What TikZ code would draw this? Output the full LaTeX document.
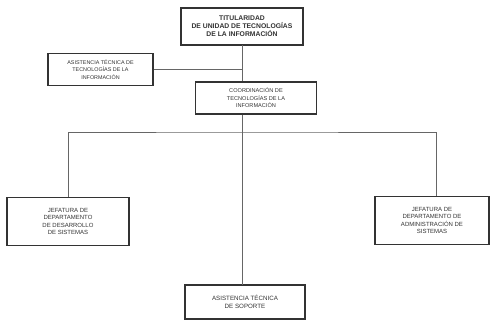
\documentclass[tikz,border=0pt]{standalone}
\usepackage{fontspec}
\setmainfont{Liberation Sans}
\begin{document}
\begin{tikzpicture}[x=1pt,y=-1pt,
  box/.style={draw=black!80, line width=1.1pt, fill=white, align=center,
    inner sep=1pt, text=black!80},
  wire/.style={draw=black!60, line width=0.6pt}]
\useasboundingbox[fill=white] (0,0) rectangle (491,322);
\node[box, minimum width=122pt, minimum height=37pt, font=\fontsize{6.8}{8}\selectfont\bfseries]
  (top) at (242,26.5) {TITULARIDAD\\DE UNIDAD DE TECNOLOGÍAS\\DE LA INFORMACIÓN};
\node[box, minimum width=105pt, minimum height=32pt, font=\fontsize{5.4}{7.5}\selectfont]
  (asis) at (100.5,69.5) {ASISTENCIA TÉCNICA DE\\TECNOLOGÍAS DE LA\\INFORMACIÓN};
\node[box, minimum width=121pt, minimum height=32pt, font=\fontsize{5.6}{7.5}\selectfont]
  (coord) at (256,98) {COORDINACIÓN DE\\TECNOLOGÍAS DE LA\\INFORMACIÓN};
\node[box, minimum width=122pt, minimum height=48pt, font=\fontsize{6}{7.5}\selectfont]
  (left) at (68,221.5) {JEFATURA DE\\DEPARTAMENTO\\DE DESARROLLO\\DE SISTEMAS};
\node[box, minimum width=114pt, minimum height=48pt, font=\fontsize{6}{7.5}\selectfont]
  (right) at (432,220.5) {JEFATURA DE\\DEPARTAMENTO DE\\ADMINISTRACIÓN DE\\SISTEMAS};
\node[box, minimum width=120pt, minimum height=34pt, font=\fontsize{6.2}{8}\selectfont]
  (bot) at (245,302) {ASISTENCIA TÉCNICA\\DE SOPORTE};
\coordinate (spine) at (242,45);
\coordinate (bus) at (242,132);
\coordinate (botin) at (242,285);
\coordinate (rin) at (436,196);
\draw[wire] (spine) -- (spine |- coord.north);
\draw[wire] (asis.east) -- (asis.east -| spine);
\draw[wire] (spine |- coord.south) -- (botin);
\draw[wire] (left.north) |- (bus) -| (rin);
\end{tikzpicture}
\end{document}
